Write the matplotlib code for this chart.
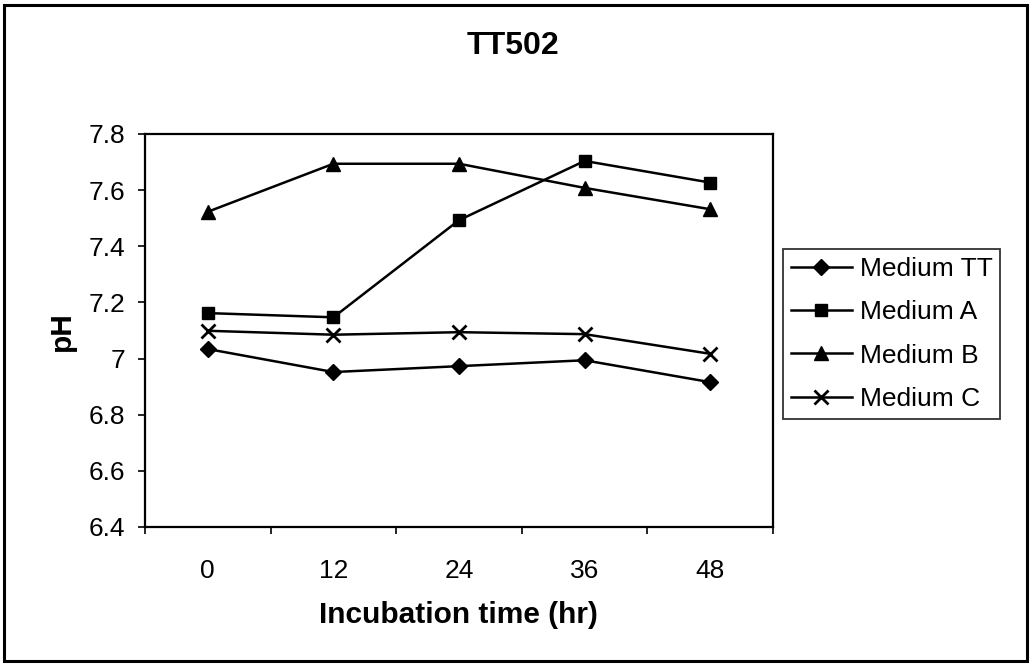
import matplotlib
matplotlib.use("Agg")
import matplotlib.pyplot as plt
from matplotlib.patches import Rectangle

plt.rcParams['font.family'] = ['Liberation Sans', 'DejaVu Sans']

time_labels = ["0", "12", "24", "36", "48"]
medium_tt = [7.034, 6.952, 6.973, 6.994, 6.916]
medium_a = [7.162, 7.147, 7.493, 7.704, 7.627]
medium_b = [7.523, 7.694, 7.694, 7.608, 7.532]
medium_c = [7.099, 7.085, 7.094, 7.087, 7.017]
series_names = ["Medium TT", "Medium A", "Medium B", "Medium C"]
y_ticks = [6.4, 6.6, 6.8, 7.0, 7.2, 7.4, 7.6, 7.8]
y_tick_labels = ["6.4", "6.6", "6.8", "7", "7.2", "7.4", "7.6", "7.8"]

W, H = 1030, 664
fig = plt.figure(figsize=(W / 100, H / 100), dpi=100)
ax = fig.add_axes([145 / W, 1 - 527 / H, (773 - 145) / W, (527 - 134) / H])

x = list(range(len(time_labels)))
styles = [
    dict(marker='D', markersize=8.5),
    dict(marker='s', markersize=8.5),
    dict(marker='^', markersize=10),
    dict(marker='x', markersize=10, markeredgewidth=2),
]
for vals, name, st in zip([medium_tt, medium_a, medium_b, medium_c], series_names, styles):
    ax.plot(x, vals, color='black', linewidth=1.8, label=name, **st)

ax.set_xlim(-0.5, len(time_labels) - 0.5)
ax.set_ylim(6.4, 7.8)
ax.set_yticks(y_ticks)
ax.set_yticklabels(y_tick_labels, fontsize=19)
ax.tick_params(axis='y', direction='out', length=5, width=1.2, pad=9)

ax.set_xticks([i - 0.5 for i in range(len(time_labels) + 1)])
ax.set_xticklabels([])
ax.tick_params(axis='x', which='major', direction='out', length=5, width=1.2)
ax.set_xticks(x, minor=True)
ax.set_xticklabels(time_labels, minor=True, fontsize=19)
ax.tick_params(axis='x', which='minor', length=0, pad=23)

for s in ax.spines.values():
    s.set_linewidth(1.6)
    s.set_color('black')

fig.text(513 / W, 1 - 45.5 / H, "TT502", ha='center', va='center',
         fontsize=23, fontweight='bold')
fig.text(458 / W, 1 - 615 / H, "Incubation time (hr)", ha='center', va='center',
         fontsize=21.5, fontweight='bold')
fig.text(62 / W, 1 - 331 / H, "pH", ha='center', va='center', rotation=90,
         fontsize=21.5, fontweight='bold')

leg = fig.legend(loc='center left', bbox_to_anchor=(783 / W, 1 - 334 / H),
                 fontsize=19, frameon=True, fancybox=False, edgecolor='black',
                 handlelength=2.3, handletextpad=0.3, labelspacing=0.73,
                 borderpad=0.3, borderaxespad=0)
leg.get_frame().set_linewidth(1.3)

fig.patches.append(Rectangle((4 / W, 3 / H), (1027 - 4) / W, (660 - 4) / H,
                             transform=fig.transFigure, fill=False,
                             edgecolor='black', linewidth=2.2))

fig.savefig("out.png", dpi=100)
